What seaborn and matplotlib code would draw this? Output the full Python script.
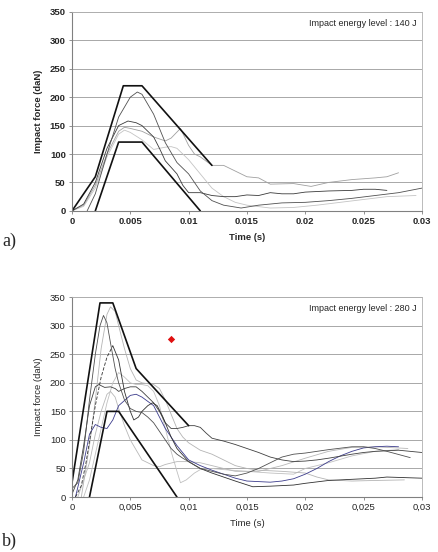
import pandas as pd
import matplotlib
matplotlib.use("Agg")
import matplotlib.pyplot as plt
import seaborn as sns

sns.set_style("white")
plt.rcParams['font.family'] = ['Liberation Sans', 'DejaVu Sans']

# ---------------- data: panel a (140 J) ----------------
a_env_up_t = [0, 0.002, 0.0044, 0.006, 0.012]
a_env_up_f = [0, 60, 220, 220, 80]
a_env_lo_t = [0.002, 0.004, 0.006, 0.011]
a_env_lo_f = [0, 121, 121, 0]

a1_t = [0.0013, 0.002, 0.003, 0.004, 0.005, 0.0056, 0.006, 0.007, 0.008, 0.009, 0.0095, 0.01,
        0.011, 0.012, 0.013, 0.0145, 0.016, 0.018, 0.02, 0.022, 0.024, 0.026, 0.028, 0.03]
a1_f = [0, 30, 100, 165, 200, 209, 205, 170, 120, 85, 75, 65, 35, 18, 10, 5, 10, 14, 15, 18,
        22, 27, 32, 40]
a2_t = [0, 0.001, 0.002, 0.003, 0.004, 0.0048, 0.0055, 0.006, 0.007, 0.0075, 0.008, 0.009,
        0.0095, 0.01, 0.011, 0.012, 0.013, 0.014, 0.015, 0.016, 0.017, 0.018, 0.019, 0.02,
        0.022, 0.024, 0.025, 0.026, 0.027]
a2_f = [0, 12, 50, 110, 150, 158, 155, 150, 130, 110, 88, 65, 45, 32, 32, 27, 25, 25, 28, 27,
        32, 30, 30, 33, 35, 36, 38, 38, 36]
a3_t = [0, 0.001, 0.002, 0.003, 0.004, 0.0045, 0.005, 0.006, 0.007, 0.008, 0.0085, 0.0093,
        0.01, 0.0105, 0.011, 0.012, 0.013, 0.014, 0.015, 0.016, 0.017, 0.019, 0.0205, 0.022,
        0.024, 0.026, 0.027, 0.028]
a3_f = [0, 10, 45, 100, 140, 147, 145, 140, 130, 123, 128, 145, 115, 100, 95, 80, 80, 70, 60,
        58, 47, 48, 43, 50, 55, 58, 60, 67]
a4_t = [0, 0.001, 0.002, 0.003, 0.004, 0.0045, 0.005, 0.006, 0.007, 0.008, 0.0085, 0.009,
        0.0095, 0.01, 0.011, 0.012, 0.013, 0.014, 0.015, 0.017, 0.019, 0.021, 0.023, 0.025,
        0.027, 0.0295]
a4_f = [0, 8, 40, 95, 135, 142, 138, 125, 108, 112, 113, 110, 100, 90, 65, 40, 25, 15, 10, 5,
        6, 10, 15, 20, 25, 27]

# ---------------- data: panel b (280 J) ----------------
b_env_up_t = [0, 0.0024, 0.0035, 0.0055, 0.01]
b_env_up_f = [25, 340, 340, 225, 125]
b_env_lo_t = [0.0015, 0.003, 0.004, 0.009]
b_env_lo_f = [0, 150, 150, 0]

b1_t = [0.0008, 0.0015, 0.002, 0.0025, 0.003, 0.0033, 0.0037, 0.004, 0.0045, 0.005, 0.0055,
        0.006, 0.007, 0.0075, 0.008, 0.0085, 0.009, 0.0095, 0.01, 0.011, 0.012, 0.013, 0.014,
        0.015, 0.016, 0.018, 0.02, 0.021, 0.022, 0.024, 0.026, 0.0285]
b1_f = [0, 90, 170, 260, 320, 333, 325, 300, 260, 225, 205, 200, 197, 190, 170, 145, 120, 105,
        95, 82, 75, 65, 55, 50, 47, 45, 42, 35, 30, 28, 29, 30]
b2_t = [0, 0.0005, 0.001, 0.0015, 0.002, 0.0024, 0.0027, 0.003, 0.0033, 0.0037, 0.004, 0.0045,
        0.005, 0.0055, 0.006, 0.0065, 0.007, 0.0075, 0.008, 0.0085, 0.009, 0.0095, 0.01, 0.011,
        0.012, 0.013, 0.014, 0.015, 0.016, 0.017, 0.018, 0.019, 0.02, 0.022, 0.024, 0.025,
        0.026, 0.027, 0.029]
b2_f = [15, 25, 80, 170, 250, 300, 318, 305, 270, 225, 200, 170, 155, 150, 148, 140, 130, 115,
        100, 85, 75, 68, 62, 50, 45, 40, 37, 42, 50, 60, 70, 75, 77, 83, 88, 88, 85, 80, 69]
# dashed rise of the 265 daN curve, then its solid remainder
b3_dash_t = [0.0003, 0.0008, 0.0012, 0.0016, 0.002, 0.0025, 0.003, 0.0035]
b3_dash_f = [0, 20, 60, 110, 160, 210, 245, 265]
b3_t = [0.0035, 0.004, 0.0045, 0.005, 0.0053, 0.0057, 0.006, 0.0065, 0.0069, 0.0073, 0.0078,
        0.0085, 0.009, 0.01, 0.011, 0.012, 0.013, 0.014, 0.0155, 0.017, 0.019, 0.02, 0.022,
        0.024, 0.026, 0.027, 0.03]
b3_f = [265, 240, 185, 150, 135, 140, 150, 160, 165, 160, 140, 105, 85, 62, 50, 42, 35, 28, 18,
        19, 21, 24, 29, 31, 33, 35, 33]
b4_t = [0, 0.0005, 0.001, 0.0015, 0.002, 0.0023, 0.0028, 0.0033, 0.0037, 0.004, 0.0045, 0.005,
        0.0055, 0.006, 0.0065, 0.007, 0.0075, 0.008, 0.0085, 0.009, 0.0095, 0.01, 0.0105, 0.011,
        0.0115, 0.012, 0.013, 0.014, 0.015, 0.016, 0.017, 0.018, 0.019, 0.02, 0.021, 0.022,
        0.024, 0.025, 0.026, 0.028, 0.03]
b4_f = [5, 30, 90, 160, 193, 197, 192, 193, 190, 185, 190, 193, 193, 185, 175, 165, 150, 130,
        120, 120, 122, 125, 125, 122, 112, 103, 98, 92, 85, 78, 70, 65, 62, 63, 65, 68, 75, 78,
        80, 82, 78]
b5_t = [0.0003, 0.001, 0.0015, 0.002, 0.0025, 0.003, 0.0035, 0.004, 0.005, 0.0055, 0.006,
        0.007, 0.008, 0.009, 0.01, 0.011, 0.012, 0.013, 0.014, 0.015, 0.016, 0.017, 0.018,
        0.019, 0.02, 0.021, 0.022, 0.023, 0.024, 0.025, 0.026, 0.027, 0.028]
b5_f = [0, 60, 110, 127, 122, 120, 135, 160, 178, 180, 175, 160, 120, 90, 65, 55, 47, 40, 33,
        28, 27, 26, 28, 32, 40, 50, 62, 72, 80, 86, 88, 89, 88]
b6_t = [0.0005, 0.0015, 0.002, 0.0025, 0.003, 0.0033, 0.0037, 0.004, 0.0045, 0.005, 0.006,
        0.007, 0.0075, 0.008, 0.009, 0.01, 0.011, 0.012, 0.013, 0.014, 0.016, 0.018, 0.02,
        0.022, 0.024, 0.026, 0.0288]
b6_f = [0, 60, 110, 150, 180, 185, 175, 155, 125, 100, 65, 55, 53, 57, 62, 62, 60, 55, 50, 45,
        45, 55, 68, 80, 87, 88, 85]
b7_t = [0.001, 0.0015, 0.002, 0.0025, 0.003, 0.0035, 0.004, 0.0045, 0.005, 0.0055, 0.006,
        0.0065, 0.007, 0.0075, 0.008, 0.0085, 0.009, 0.0093, 0.0098, 0.0105, 0.011, 0.012,
        0.013, 0.015, 0.017, 0.019, 0.02, 0.022, 0.024, 0.026, 0.028]
b7_f = [0, 30, 75, 120, 165, 200, 218, 210, 200, 197, 197, 195, 185, 160, 120, 80, 45, 25, 30,
        42, 48, 50, 48, 45, 42, 40, 50, 60, 72, 80, 83]
red_t = [0.0085]
red_f = [276]

y_ticks = [0, 50, 100, 150, 200, 250, 300, 350]
x_ticks = [0, 0.005, 0.01, 0.015, 0.02, 0.025, 0.03]
a_xlabels = ['0', '0.005', '0.01', '0.015', '0.02', '0.025', '0.03']
b_xlabels = ['0', '0,005', '0,01', '0,015', '0,02', '0,025', '0,03']


def draw(ax, t, f, color, lw=0.6, ls='-'):
    df = pd.DataFrame({'t': t, 'f': f})
    sns.lineplot(data=df, x='t', y='f', ax=ax, color=color, linewidth=lw, linestyle=ls,
                 sort=False, estimator=None)


def style_axes(ax, xlabels, bold, note):
    weight = 'bold' if bold else 'normal'
    ax.set_xlim(0, 0.03)
    ax.set_ylim(0, 350)
    ax.set_xticks(x_ticks)
    ax.set_xticklabels(xlabels, fontsize=6.8, fontweight=weight)
    ax.set_yticks(y_ticks)
    ax.set_yticklabels([str(v) for v in y_ticks], fontsize=6.8, fontweight=weight)
    ax.tick_params(axis='both', direction='out', length=2.5, width=0.6, color='#808080', pad=2,
                   bottom=True, left=True)
    ax.yaxis.grid(True, color='#a8a8a8', linewidth=0.7)
    ax.xaxis.grid(False)
    ax.set_axisbelow(True)
    for s in ['left', 'bottom']:
        ax.spines[s].set_color('#808080')
        ax.spines[s].set_linewidth(0.8)
    for s in ['top', 'right']:
        ax.spines[s].set_color('#b0b0b0')
        ax.spines[s].set_linewidth(0.6)
    ax.set_xlabel('Time (s)', fontsize=6.8, fontweight=weight, labelpad=5)
    ax.set_ylabel('Impact force (daN)', fontsize=6.8, fontweight=weight, labelpad=5)
    ax.text(0.985, 0.965, note, transform=ax.transAxes, ha='right', va='top', fontsize=6.5)


fig = plt.figure(figsize=(4.39, 5.52), dpi=100)
ax_a = fig.add_axes([0.164, 0.618, 0.797, 0.3605])
ax_b = fig.add_axes([0.164, 0.0996, 0.797, 0.362])

# panel a
draw(ax_a, a4_t, a4_f, '#c4c4c4')
draw(ax_a, a3_t, a3_f, '#a0a0a0')
draw(ax_a, a2_t, a2_f, '#3a3a3a')
draw(ax_a, a1_t, a1_f, '#505050')
draw(ax_a, a_env_up_t, a_env_up_f, '#111111', lw=1.2)
draw(ax_a, a_env_lo_t, a_env_lo_f, '#111111', lw=1.2)
style_axes(ax_a, a_xlabels, True, 'Impact energy level : 140 J')

# panel b
draw(ax_b, b7_t, b7_f, '#c0c0c0')
draw(ax_b, b6_t, b6_f, '#b8b8b8')
draw(ax_b, b1_t, b1_f, '#b4b4b4')
draw(ax_b, b5_t, b5_f, '#3c3c8c')
draw(ax_b, b4_t, b4_f, '#404040')
draw(ax_b, b3_dash_t, b3_dash_f, '#303030', ls=(0, (4, 2)))
draw(ax_b, b3_t, b3_f, '#303030')
draw(ax_b, b2_t, b2_f, '#505050')
draw(ax_b, b_env_up_t, b_env_up_f, '#111111', lw=1.2)
draw(ax_b, b_env_lo_t, b_env_lo_f, '#111111', lw=1.2)
sns.scatterplot(x=red_t, y=red_f, ax=ax_b, color='#e01010', marker='D', s=14, linewidth=0)
style_axes(ax_b, b_xlabels, False, 'Impact energy level : 280 J')

fig.text(0.005, 0.563, 'a)', fontsize=13, family='Liberation Serif', va='center')
fig.text(0.005, 0.02, 'b)', fontsize=13, family='Liberation Serif', va='center')

fig.savefig('out.png', dpi=100)
